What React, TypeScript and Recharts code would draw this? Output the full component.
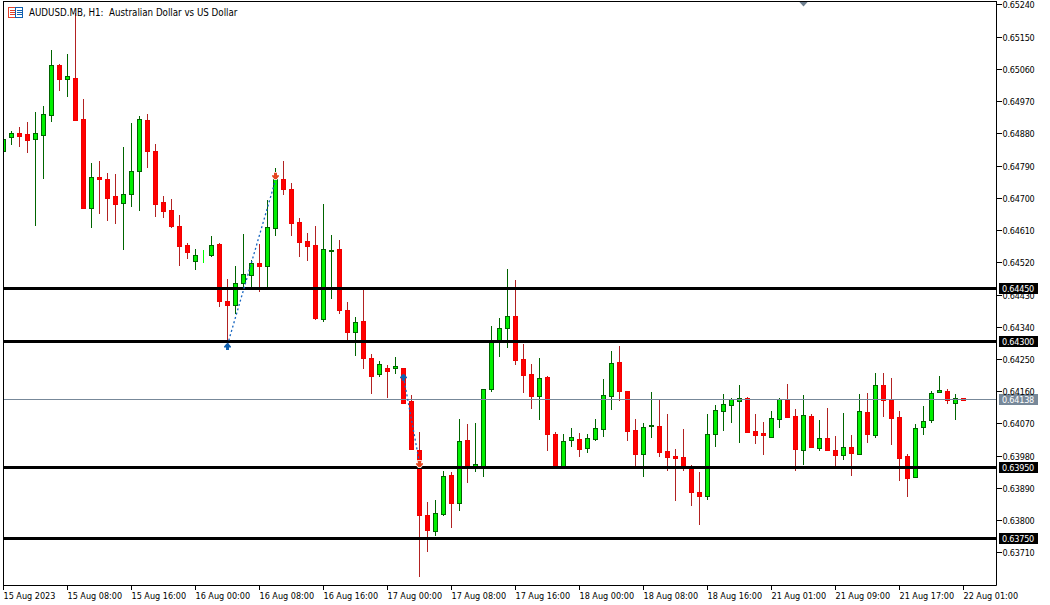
import React from 'react';
import { ComposedChart, Bar, XAxis, YAxis, ReferenceLine, ReferenceDot } from 'recharts';

const opens = [
  0.64831, 0.6487, 0.64882, 0.64879, 0.64867, 0.64878, 0.64934, 0.65072, 0.65034, 0.65035,
  0.64921, 0.64674, 0.64759, 0.64753, 0.64706, 0.64688, 0.64711, 0.64775, 0.64918, 0.64832,
  0.6469, 0.64667, 0.64622, 0.6457, 0.64526, 0.64545, 0.64543, 0.64573, 0.64413, 0.64403,
  0.64465, 0.64487, 0.64519, 0.64512, 0.64618, 0.64753, 0.64725, 0.64633, 0.6458, 0.64569,
  0.64364, 0.64554, 0.64558, 0.64388, 0.64326, 0.64357, 0.64254, 0.64209, 0.64227, 0.64225,
  0.64227, 0.64134, 0.63997, 0.63815, 0.6377, 0.6382, 0.63927, 0.63848, 0.64025, 0.63953,
  0.63953, 0.64167, 0.64304, 0.64339, 0.64371, 0.64251, 0.64209, 0.64149, 0.64201, 0.64042,
  0.63951, 0.64024, 0.64028, 0.64004, 0.64027, 0.64057, 0.64149, 0.64243, 0.64162, 0.64053,
  0.63985, 0.64064, 0.64064, 0.63994, 0.6398, 0.63977, 0.63947, 0.6388, 0.6387, 0.64041,
  0.64105, 0.64122, 0.64135, 0.64143, 0.6405, 0.64044, 0.64035, 0.64085, 0.64137, 0.64092,
  0.63996, 0.64092, 0.64004, 0.6403, 0.63997, 0.63982, 0.64005, 0.63985, 0.64103, 0.6404,
  0.64178, 0.64136, 0.64089, 0.6398, 0.63921, 0.64061, 0.6408, 0.64158, 0.64162, 0.64128,
  0.64142,
];
const highs = [
  0.64865, 0.64888, 0.64899, 0.64913, 0.64941, 0.64958, 0.65114, 0.65075, 0.65103, 0.65217,
  0.64978, 0.64799, 0.64805, 0.64771, 0.64768, 0.64844, 0.64911, 0.6493, 0.64936, 0.64851,
  0.64707, 0.64698, 0.64654, 0.64576, 0.64559, 0.64556, 0.64595, 0.64576, 0.64475, 0.64511,
  0.64601, 0.64528, 0.64573, 0.64696, 0.64785, 0.64805, 0.64743, 0.64645, 0.64604, 0.64623,
  0.64685, 0.64598, 0.64584, 0.64411, 0.64369, 0.64444, 0.64266, 0.64246, 0.64235, 0.64257,
  0.64227, 0.64151, 0.64048, 0.63853, 0.63858, 0.63939, 0.63936, 0.64084, 0.6407, 0.64073,
  0.64167, 0.64344, 0.64366, 0.64503, 0.64472, 0.64294, 0.64238, 0.64255, 0.64204, 0.64048,
  0.64042, 0.64059, 0.64045, 0.64042, 0.64084, 0.64196, 0.64274, 0.64288, 0.64163, 0.64084,
  0.64073, 0.6416, 0.64137, 0.64098, 0.64001, 0.64056, 0.63955, 0.63936, 0.64098, 0.64123,
  0.64154, 0.64143, 0.64179, 0.64146, 0.64098, 0.64076, 0.64107, 0.64143, 0.64182, 0.64112,
  0.64151, 0.64098, 0.64082, 0.64115, 0.64037, 0.64101, 0.6404, 0.64154, 0.64157, 0.64213,
  0.64213, 0.64199, 0.64107, 0.63986, 0.6407, 0.64121, 0.64162, 0.64204, 0.64167, 0.64154,
  0.64142,
];
const lows = [
  0.64831, 0.64849, 0.64844, 0.64827, 0.64623, 0.64754, 0.64913, 0.64999, 0.64983, 0.64916,
  0.64671, 0.64618, 0.64657, 0.64637, 0.64629, 0.64556, 0.64676, 0.64665, 0.64785, 0.64648,
  0.64645, 0.64618, 0.64511, 0.64531, 0.645, 0.6452, 0.64537, 0.64397, 0.64291, 0.64377,
  0.64444, 0.64449, 0.64439, 0.64449, 0.64595, 0.6471, 0.64595, 0.64537, 0.64525, 0.64361,
  0.64355, 0.64419, 0.64377, 0.64305, 0.6426, 0.64224, 0.64154, 0.64202, 0.64143, 0.6421,
  0.64129, 0.63998, 0.63644, 0.63713, 0.63758, 0.63814, 0.6378, 0.63828, 0.63906, 0.63936,
  0.63922, 0.6416, 0.64257, 0.64283, 0.64235, 0.64157, 0.64112, 0.64082, 0.63995, 0.63951,
  0.63951, 0.64006, 0.63978, 0.63989, 0.64023, 0.64034, 0.64109, 0.64135, 0.64023, 0.63951,
  0.63922, 0.64031, 0.63978, 0.63939, 0.63855, 0.63939, 0.6384, 0.63788, 0.63858, 0.64006,
  0.64051, 0.64073, 0.64017, 0.64045, 0.64015, 0.63984, 0.64035, 0.64059, 0.64087, 0.63939,
  0.63956, 0.64003, 0.63995, 0.63995, 0.63951, 0.6397, 0.63925, 0.63985, 0.64017, 0.64031,
  0.6409, 0.64012, 0.63911, 0.63867, 0.63921, 0.6404, 0.64073, 0.64157, 0.64126, 0.64082,
  0.64138,
];
const closes = [
  0.64865, 0.64882, 0.64875, 0.64864, 0.64882, 0.64935, 0.65072, 0.65032, 0.65041, 0.64919,
  0.64673, 0.64759, 0.64754, 0.64702, 0.64685, 0.64711, 0.64776, 0.64921, 0.64831, 0.64685,
  0.64666, 0.64624, 0.64568, 0.64549, 0.64541, 0.64545, 0.64569, 0.64414, 0.64403, 0.64463,
  0.64488, 0.64519, 0.6451, 0.64619, 0.64753, 0.64727, 0.64632, 0.64579, 0.64568, 0.64367,
  0.64558, 0.64556, 0.64387, 0.64328, 0.64354, 0.64253, 0.64205, 0.64237, 0.64219, 0.64231,
  0.64129, 0.63999, 0.63816, 0.63773, 0.63821, 0.63924, 0.63848, 0.64022, 0.63951, 0.63958,
  0.64167, 0.64299, 0.64337, 0.64371, 0.6425, 0.64208, 0.64147, 0.64198, 0.64041, 0.63951,
  0.64022, 0.64033, 0.64001, 0.6403, 0.64058, 0.6415, 0.6424, 0.64163, 0.64049, 0.63985,
  0.64061, 0.64067, 0.63993, 0.63979, 0.63976, 0.6395, 0.63879, 0.6387, 0.64042, 0.64109,
  0.64125, 0.64139, 0.64142, 0.64048, 0.64038, 0.6404, 0.64086, 0.64139, 0.6409, 0.64001,
  0.64095, 0.64006, 0.6403, 0.63998, 0.63982, 0.64005, 0.63988, 0.64106, 0.64043, 0.64178,
  0.64136, 0.64088, 0.63976, 0.63918, 0.64058, 0.64078, 0.64156, 0.64164, 0.64136, 0.64142,
  0.64138,
];

// one tick every 8 bars
const timeTicks = [0, 8, 16, 24, 32, 40, 48, 56, 64, 72, 80, 88, 96, 104, 112, 120];
const timeLabels = [
  '15 Aug 2023', '15 Aug 08:00', '15 Aug 16:00', '16 Aug 00:00', '16 Aug 08:00', '16 Aug 16:00',
  '17 Aug 00:00', '17 Aug 08:00', '17 Aug 16:00', '18 Aug 00:00', '18 Aug 08:00', '18 Aug 16:00',
  '21 Aug 01:00', '21 Aug 09:00', '21 Aug 17:00', '22 Aug 01:00',
];
const priceTicks = [
  0.6524, 0.6515, 0.6506, 0.6497, 0.6488, 0.6479, 0.647, 0.6461, 0.6452,
  0.6443, 0.6434, 0.6425, 0.6416, 0.6407, 0.6398, 0.6389, 0.638, 0.6371,
];
const levels = [0.6445, 0.643, 0.6395, 0.6375];
const lastPrice = 0.64138;

// trades: [bar, price] of entry and exit
const buyEntries = [[28, 0.64285], [50, 0.64199]];
const sellExits = [[34, 0.64763], [52, 0.63959]];
const tradeLines = [
  [[28, 0.64291], [34, 0.64751]],
  [[50, 0.64202], [52, 0.63961]],
];

const candles = opens.map((open, i) => ({
  i,
  open,
  close: closes[i],
  high: highs[i],
  low: lows[i],
  range: [lows[i], highs[i]],
}));

const FONT = '"DejaVu Sans Condensed", "DejaVu Sans", sans-serif';
const PRICE_MIN = 0.63619;
const PRICE_MAX = 0.65251;

// pixel row a horizontal price line sits on
const snapRow = (y: number) => Math.floor(y + 0.3);

const Candle = (props: any) => {
  const { x, y, width, height, payload } = props;
  const { open, close, high, low } = payload;
  const cx = Math.floor(x + width / 2) + 0.5;
  const toY = (v: number) => y + ((high - v) / (high - low)) * height;
  const bull = close > open;
  const doji = close === open;
  const wick = doji ? '#00ff00' : bull ? '#006400' : '#b22222';
  const top = Math.round(toY(Math.max(open, close))) + 0.5;
  const bottom = Math.round(toY(Math.min(open, close))) + 0.5;
  return (
    <g shapeRendering="crispEdges">
      <line x1={cx} x2={cx} y1={y} y2={y + height} stroke={wick} />
      <rect
        x={cx - 2}
        y={top}
        width={4}
        height={Math.max(bottom - top, 0)}
        fill={bull ? '#00f000' : '#ff0000'}
        stroke={doji ? '#00ff00' : bull ? '#006400' : '#f00000'}
      />
    </g>
  );
};

const TimeTick = (props: any) => {
  const { x, y, payload } = props;
  const label = timeLabels[timeTicks.indexOf(payload.value)];
  return (
    <text x={x} y={y + 7} textAnchor="start" fontFamily={FONT} fontSize={9} fill="#000">
      {label}
    </text>
  );
};

const PriceTick = (props: any) => {
  const { x, y, payload } = props;
  return (
    <text x={x} y={y + 3.5} textAnchor="start" fontFamily={FONT} fontSize={9} letterSpacing={-0.2} fill="#000">
      {payload.value.toFixed(5)}
    </text>
  );
};

const PriceTag = (fill: string, value: number) => (props: any) => {
  const { viewBox } = props;
  const left = Math.round(viewBox.x + viewBox.width) + 2;
  const mid = snapRow(viewBox.y);
  return (
    <g>
      <rect x={left} y={mid - 5} width={39} height={11} fill={fill} />
      <text x={left + 3} y={mid + 4} fontFamily={FONT} fontSize={9} letterSpacing={-0.2} fill="#fff">
        {value.toFixed(5)}
      </text>
    </g>
  );
};

const PriceLine = (color: string, thickness: number) => (props: any) => {
  const { x1, x2, y1 } = props;
  const y = snapRow(y1) + 0.5;
  return <line x1={x1} x2={x2} y1={y} y2={y} stroke={color} strokeWidth={thickness} shapeRendering="crispEdges" />;
};

const BuyArrow = (props: any) => {
  const { cx, cy } = props;
  return (
    <path
      d={`M${cx - 1} ${cy - 3.5}H${cx + 1}L${cx + 3.5} ${cy - 0.5}V${cy + 0.5}H${cx + 1.5}V${cy + 3}H${cx - 1.5}V${cy + 0.5}H${cx - 3.5}V${cy - 0.5}Z`}
      fill="#0f5fae"
    />
  );
};

const SellArrow = (props: any) => {
  const { cx, cy } = props;
  return (
    <path
      d={`M${cx - 1} ${cy + 3.5}H${cx + 1}L${cx + 3.5} ${cy + 0.5}V${cy - 0.5}H${cx + 1.5}V${cy - 3}H${cx - 1.5}V${cy - 0.5}H${cx - 3.5}V${cy + 0.5}Z`}
      fill="#e5451f"
      stroke="#fff"
      strokeWidth={1.5}
      paintOrder="stroke"
    />
  );
};

const ShiftMark = (props: any) => {
  const { cx, cy } = props;
  return <path d={`M${cx - 5} ${cy}H${cx + 5}L${cx} ${cy + 5.5}Z`} fill="#708090" />;
};

const App = () => {
  return (
    <div style={{ position: 'absolute', left: 0, top: 0, width: 1050, height: 605, background: '#fff' }}>
      <ComposedChart
        width={1050}
        height={605}
        data={candles}
        margin={{ top: 1, right: 0, left: 3, bottom: 0 }}
      >
        <XAxis
          dataKey="i"
          type="number"
          domain={[-0.0625, 124.125]}
          allowDataOverflow
          ticks={timeTicks}
          interval={0}
          height={19.5}
          tickSize={4}
          stroke="#000"
          tickLine={{ stroke: '#000', shapeRendering: 'crispEdges' }}
          tick={<TimeTick />}
        />
        <YAxis
          orientation="right"
          type="number"
          domain={[PRICE_MIN, PRICE_MAX]}
          ticks={priceTicks}
          interval={0}
          width={53.5}
          tickSize={5}
          tickMargin={1}
          stroke="#000"
          tickLine={{ stroke: '#000', shapeRendering: 'crispEdges' }}
          tick={<PriceTick />}
        />
        <ReferenceLine y={lastPrice} shape={PriceLine('#778899', 1)} label={PriceTag('#778899', lastPrice)} />
        <Bar dataKey="range" barSize={5} shape={<Candle />} isAnimationActive={false} />
        {levels.map((level) => (
          <ReferenceLine key={level} y={level} shape={PriceLine('#000', 3)} label={PriceTag('#000', level)} />
        ))}
        {tradeLines.map((seg, k) => (
          <ReferenceLine
            key={k}
            segment={seg.map(([x, y]) => ({ x, y }))}
            stroke="#1565c0"
            strokeWidth={1.3}
            strokeDasharray="2 2.5"
          />
        ))}
        {buyEntries.map(([x, y]) => (
          <ReferenceDot key={x} x={x} y={y} r={4} shape={<BuyArrow />} />
        ))}
        {sellExits.map(([x, y]) => (
          <ReferenceDot key={x} x={x} y={y} r={4} shape={<SellArrow />} />
        ))}
        <ReferenceDot x={100} y={PRICE_MAX} r={4} shape={<ShiftMark />} />
      </ComposedChart>
      <div
        style={{
          position: 'absolute',
          left: 3,
          top: 1,
          width: 993,
          height: 584,
          borderLeft: '1px solid #000',
          borderTop: '1px solid #000',
          pointerEvents: 'none',
        }}
      />
      <svg width={16} height={12} style={{ position: 'absolute', left: 8, top: 7 }}>
        <g fill="none" shapeRendering="crispEdges">
          <rect x={0.5} y={0.5} width={7} height={10} stroke="#e0402a" />
          <path d="M2 3.5H7M2 5.5H7M2 7.5H7" stroke="#e0402a" />
          <rect x={7.5} y={0.5} width={7} height={10} stroke="#1060b0" />
          <path d="M9 3.5H14M9 5.5H14M9 7.5H14" stroke="#1060b0" />
        </g>
      </svg>
      <div
        style={{
          position: 'absolute',
          left: 29,
          top: 6,
          fontFamily: FONT,
          fontSize: 9.7,
          lineHeight: '13px',
          whiteSpace: 'pre',
          color: '#000',
        }}
      >
        AUDUSD.MB, H1:  Australian Dollar vs US Dollar
      </div>
    </div>
  );
};

export default App;
